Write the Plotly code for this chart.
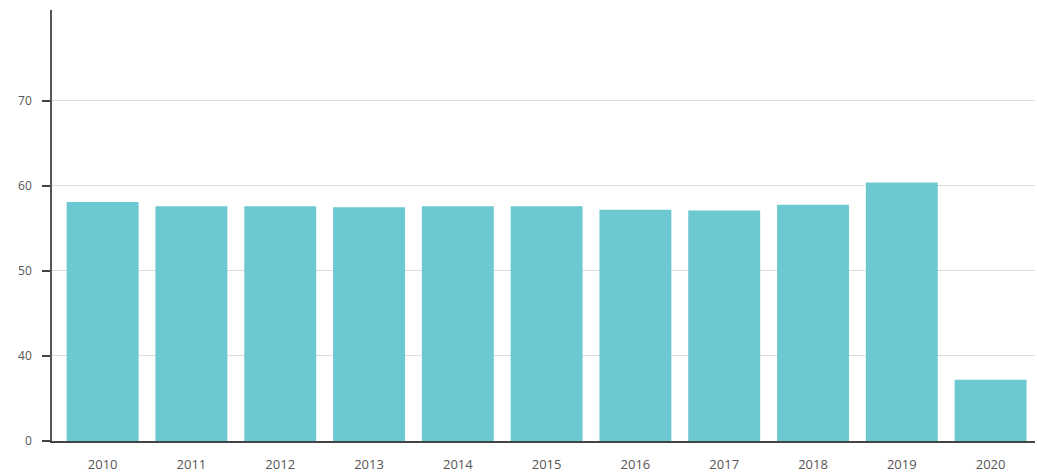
import plotly.graph_objects as go

years = ["2010", "2011", "2012", "2013", "2014", "2015", "2016", "2017", "2018", "2019", "2020"]
values = [58.1, 57.6, 57.6, 57.5, 57.6, 57.6, 57.2, 57.1, 57.8, 60.4, 37.2]

# broken axis: labels 0, 40, 50, 60, 70 equally spaced (axis starts at 30 shown as "0")
axis_base = 30
tick_labels = ["0", "40", "50", "60", "70"]
tick_values = [30, 40, 50, 60, 70]

fig = go.Figure(
    go.Bar(
        x=years,
        y=[v - axis_base for v in values],
        marker=dict(color="#6cc9d2", line=dict(width=0)),
        width=0.81,
    )
)

fig.update_layout(
    width=1037,
    height=472,
    margin=dict(l=52, r=2, t=10, b=31),
    paper_bgcolor="white",
    plot_bgcolor="white",
    font=dict(family="Open Sans", size=12, color="#555555"),
    showlegend=False,
)

fig.update_xaxes(
    type="category",
    range=[-0.57, 10.5],
    showgrid=False,
    showline=True,
    linecolor="#444444",
    linewidth=1.5,
    layer="below traces",
    ticks="",
    ticklabelstandoff=11,
    automargin=False,
    tickfont=dict(size=13, color="#555555"),
)

fig.update_yaxes(
    range=[0, 50.7],
    tickvals=[t - axis_base for t in tick_values],
    ticktext=tick_labels,
    showgrid=True,
    gridcolor="#dcdcdc",
    gridwidth=1,
    showline=True,
    linecolor="#555555",
    linewidth=1.5,
    ticks="outside",
    ticklen=8,
    tickcolor="#444444",
    tickwidth=1.5,
    ticklabelstandoff=8,
    automargin=False,
    zeroline=False,
    layer="below traces",
    tickfont=dict(size=12, color="#555555"),
)

fig.write_html("out.html")
